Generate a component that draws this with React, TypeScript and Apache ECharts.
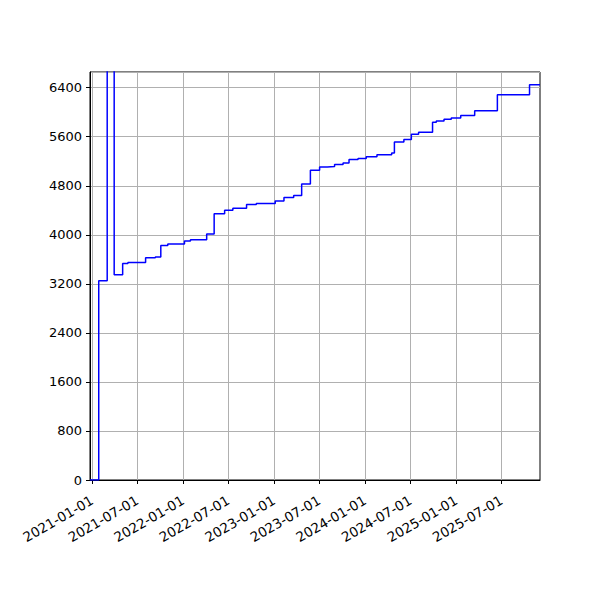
import { useRef, useEffect } from 'react'
import * as echarts from 'echarts'

// step change points: date where the value starts, value held until the next date
const stepDates = [
  '2020-12-24', '2021-01-28', '2021-03-03', '2021-03-31', '2021-05-04', '2021-05-25',
  '2021-08-04', '2021-09-12', '2021-10-04', '2021-11-01', '2022-01-07', '2022-01-31',
  '2022-04-06', '2022-05-06', '2022-06-17', '2022-07-20', '2022-09-13', '2022-10-22',
  '2023-01-06', '2023-02-10', '2023-03-21', '2023-04-22', '2023-05-27', '2023-07-03',
  '2023-08-03', '2023-09-01', '2023-10-05', '2023-10-29', '2023-12-04', '2024-01-06',
  '2024-02-18', '2024-04-17', '2024-04-28', '2024-06-05', '2024-07-05', '2024-08-03',
  '2024-09-28', '2024-10-13', '2024-11-13', '2024-12-12', '2025-01-19', '2025-03-16',
  '2025-06-15', '2025-10-22', '2025-12-03',
]
const stepValues = [
  0, 3250, 9000, 3350, 3530, 3550,
  3625, 3640, 3825, 3850, 3900, 3920,
  4015, 4345, 4400, 4435, 4495, 4510,
  4550, 4610, 4640, 4830, 5055, 5105,
  5115, 5145, 5170, 5230, 5245, 5275,
  5305, 5335, 5515, 5555, 5640, 5675,
  5835, 5855, 5885, 5905, 5945, 6025,
  6285, 6450, 6450,
]

const xTickLabels = [
  '2021-01-01', '2021-07-01', '2022-01-01', '2022-07-01', '2023-01-01',
  '2023-07-01', '2024-01-01', '2024-07-01', '2025-01-01', '2025-07-01',
]
const xMin = '2020-12-24'
const xMax = '2025-12-03'
const yMax = 6656
const yInterval = 800

const FONT = 'DejaVu Sans'

function ts(d: string): number {
  return new Date(d + 'T00:00:00Z').getTime()
}

function fmtDate(v: number): string {
  const d = new Date(v)
  const m = String(d.getUTCMonth() + 1).padStart(2, '0')
  const day = String(d.getUTCDate()).padStart(2, '0')
  return `${d.getUTCFullYear()}-${m}-${day}`
}

export default function App() {
  const ref = useRef<HTMLDivElement>(null)

  useEffect(() => {
    if (!ref.current) return
    const chart = echarts.init(ref.current, null, { renderer: 'svg' })
    const tickTs = xTickLabels.map(ts)
    chart.setOption({
      animation: false,
      backgroundColor: '#fff',
      grid: {
        left: 90,
        right: 60,
        top: 72,
        bottom: 120,
        show: true,
        borderColor: '#000',
        borderWidth: 1,
        backgroundColor: 'transparent',
      },
      xAxis: {
        type: 'value',
        min: ts(xMin),
        max: ts(xMax),
        axisLine: { show: true, onZero: false, lineStyle: { color: '#000', width: 1 } },
        axisTick: { show: true, length: 4, lineStyle: { color: '#000' }, customValues: tickTs },
        axisLabel: {
          customValues: tickTs,
          formatter: (v: number) => fmtDate(v),
          rotate: 30,
          margin: 19,
          color: '#000',
          fontFamily: FONT,
          fontSize: 13.5,
        },
        splitLine: { show: true, lineStyle: { color: '#b0b0b0', width: 1 } },
      },
      yAxis: {
        type: 'value',
        min: 0,
        max: yMax,
        interval: yInterval,
        axisLine: { show: true, lineStyle: { color: '#000', width: 1 } },
        axisTick: { show: true, length: 4, lineStyle: { color: '#000' } },
        axisLabel: {
          showMaxLabel: false,
          formatter: (v: number) => String(v),
          margin: 8,
          color: '#000',
          fontFamily: FONT,
          fontSize: 13,
        },
        splitLine: { show: true, lineStyle: { color: '#b0b0b0', width: 1 } },
      },
      series: [
        {
          type: 'line',
          step: 'end',
          clip: true,
          symbol: 'none',
          lineStyle: { color: '#0000ff', width: 1.5 },
          data: stepDates.map((d, i) => [ts(d), stepValues[i]]),
        },
      ],
    })
    return () => chart.dispose()
  }, [])

  return (
    <div
      ref={ref}
      style={{ position: 'absolute', left: 0, top: 0, width: 600, height: 600, background: '#fff' }}
    />
  )
}
